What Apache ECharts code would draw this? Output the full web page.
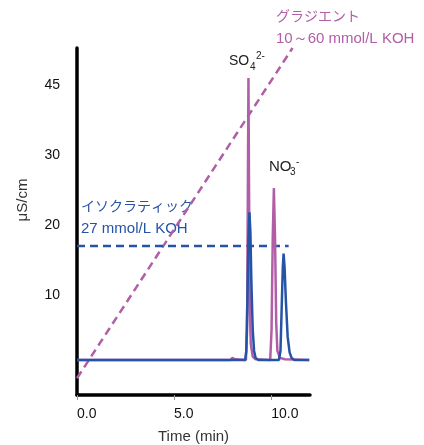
<!DOCTYPE html>
<html>
<head>
<meta charset="utf-8">
<script src="https://cdn.jsdelivr.net/npm/echarts@6/dist/echarts.min.js"></script>
<style>
  html, body { margin: 0; padding: 0; background: #fff; }
  #chart { width: 424px; height: 445px; }
</style>
</head>
<body>
<div id="chart"></div>
<script>
// 軸
const xTickValues = [0, 5, 10]
const yTickValues = [10, 20, 30, 40]
const yTickLabels = ['10', '20', '30', '45']

// グラジエント溶離液（破線）
const gradientTime = [0, 11.1]
const gradientLevel = [-1.9, 45.3]

// イソクラティック溶離液（破線）
const isoTime = [0, 10.9]
const isoLevel = [17, 17]

// クロマトグラム：グラジエント
const gradTime = [0, 7.9, 8.0, 8.15, 8.7, 8.76, 8.8, 8.83, 8.86, 8.9, 8.95, 9.05, 9.2, 9.95, 10.02, 10.08, 10.14, 10.2, 10.26, 10.32, 10.45, 10.7, 11.96]
const gradSignal = [0.7, 0.7, 1.0, 0.8, 0.7, 5, 25, 41, 25, 8, 3, 1.2, 0.8, 0.7, 5, 18, 25.3, 18, 6, 2, 1, 0.8, 0.7]

// クロマトグラム：イソクラティック
const isoChromTime = [0, 6.95, 7.05, 7.2, 8.66, 8.72, 8.78, 8.83, 8.88, 8.93, 8.98, 9.05, 9.12, 9.2, 9.35, 10.4, 10.48, 10.54, 10.6, 10.64, 10.69, 10.76, 10.85, 10.95, 11.05, 11.2, 11.96]
const isoChromSignal = [0.7, 0.7, 0.95, 0.7, 0.7, 2, 10, 18, 21.8, 19, 12, 5, 2, 1, 0.7, 0.7, 2, 8, 14, 15.9, 14, 9, 4, 1.8, 1, 0.7, 0.7]

const pink = '#b25ea6'
const blue = '#2553a6'
const zip = (xs, ys) => xs.map((x, i) => [x, ys[i]])
const jpFont = '14px "Noto Sans CJK JP"'
const enFont = '15px "Liberation Sans"'

const chart = echarts.init(document.getElementById('chart'))
chart.setOption({
  animation: false,
  grid: { left: 77, right: 114, top: 48, bottom: 50, outerBoundsMode: 'none' },
  xAxis: {
    type: 'value',
    min: 0,
    max: 12,
    name: 'Time (min)',
    nameLocation: 'middle',
    nameGap: 34,
    nameTextStyle: { fontFamily: 'Liberation Sans', fontSize: 15, color: '#333' },
    axisLine: { onZero: false, lineStyle: { color: '#000', width: 3.5 } },
    axisTick: { show: true, customValues: xTickValues, length: 5, lineStyle: { color: '#999', width: 1 } },
    axisLabel: {
      customValues: xTickValues,
      formatter: v => v.toFixed(1),
      align: 'left',
      margin: 12,
      fontFamily: 'Liberation Sans',
      fontSize: 14,
      color: '#111',
    },
    splitLine: { show: false },
  },
  yAxis: {
    type: 'value',
    min: -4.3,
    max: 45.3,
    axisLine: { show: true, lineStyle: { color: '#000', width: 3.5 } },
    axisTick: { show: false },
    axisLabel: {
      customValues: yTickValues,
      formatter: v => yTickLabels[yTickValues.indexOf(v)],
      margin: 17,
      fontFamily: 'Liberation Sans',
      fontSize: 14,
      color: '#111',
    },
    splitLine: { show: false },
  },
  series: [
    {
      type: 'line',
      data: zip(gradientTime, gradientLevel),
      symbol: 'none',
      clip: false,
      lineStyle: { color: pink, width: 2.5, type: [8, 5] },
    },
    {
      type: 'line',
      data: zip(isoTime, isoLevel),
      symbol: 'none',
      lineStyle: { color: blue, width: 2.5, type: [8, 5] },
    },
    {
      type: 'line',
      data: zip(gradTime, gradSignal),
      symbol: 'none',
      lineStyle: { color: pink, width: 2.5 },
    },
    {
      type: 'line',
      data: zip(isoChromTime, isoChromSignal),
      symbol: 'none',
      lineStyle: { color: blue, width: 2.5 },
    },
  ],
  graphic: [
    // 縦軸名
    { type: 'text', x: 23, y: 200, rotation: Math.PI / 2, style: { text: 'μS/cm', font: '15px "Liberation Sans"', fill: '#333', align: 'center', verticalAlign: 'middle' } },
    { type: 'text', left: 276, top: 9, style: { text: 'グラジエント', font: jpFont, fill: pink } },
    { type: 'text', left: 276, top: 31, style: { text: '10～60 mmol/L KOH', font: enFont, fill: pink } },
    { type: 'text', left: 81, top: 199, style: { text: 'イソクラティック', font: jpFont, fill: blue } },
    { type: 'text', left: 81, top: 221, style: { text: '27 mmol/L KOH', font: enFont, fill: blue } },
    // SO4 2-
    { type: 'text', left: 229, top: 54, style: { text: 'SO', font: '14px "Liberation Sans"', fill: '#222' } },
    { type: 'text', left: 250, top: 62, style: { text: '4', font: '10px "Liberation Sans"', fill: '#222' } },
    { type: 'text', left: 256, top: 51, style: { text: '2-', font: '10px "Liberation Sans"', fill: '#222' } },
    // NO3 -
    { type: 'text', left: 269, top: 159, style: { text: 'NO', font: '15px "Liberation Sans"', fill: '#222' } },
    { type: 'text', left: 290, top: 167, style: { text: '3', font: '10px "Liberation Sans"', fill: '#222' } },
    { type: 'text', left: 296, top: 157, style: { text: '-', font: '10px "Liberation Sans"', fill: '#222' } },
  ],
})
</script>
</body>
</html>
